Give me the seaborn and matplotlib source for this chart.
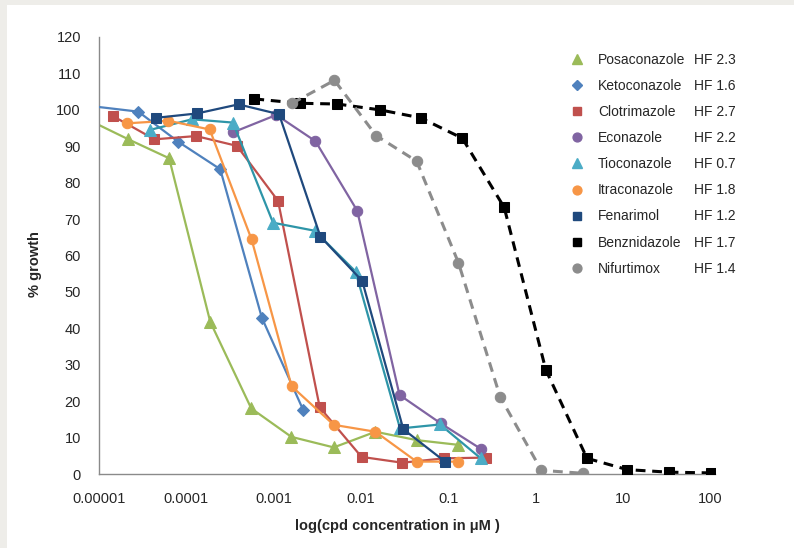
import numpy as np
import pandas as pd
import seaborn as sns
import matplotlib
matplotlib.use("Agg")
import matplotlib.pyplot as plt
from matplotlib.lines import Line2D
from matplotlib.patches import Rectangle
from matplotlib.ticker import NullLocator

# ---- data: concentration (µM) and % growth per compound ----
posa_x = [7.2e-6, 2.17e-5, 6.35e-5, 1.875e-4, 5.53e-4, 1.59e-3, 4.86e-3, 1.46e-2, 4.32e-2, 0.130]
posa_y = [97.5, 91.9, 86.7, 41.8, 18.0, 10.2, 7.3, 11.6, 9.3, 8.0]

keto_x = [8.3e-6, 2.82e-5, 8.11e-5, 2.44e-4, 7.31e-4, 2.17e-3]
keto_y = [101.0, 99.5, 91.2, 83.7, 42.9, 17.6]

clot_x = [1.44e-5, 4.31e-5, 1.29e-4, 3.79e-4, 1.12e-3, 3.36e-3, 1.01e-2, 2.96e-2, 8.87e-2, 0.267]
clot_y = [98.3, 91.9, 92.8, 90.1, 75.0, 18.3, 4.7, 3.1, 4.3, 4.5]

econ_x = [3.40e-4, 1.07e-3, 3.00e-3, 9.02e-3, 2.75e-2, 8.15e-2, 0.238]
econ_y = [93.8, 98.6, 91.4, 72.3, 21.7, 13.9, 6.8]

tioc_x = [3.85e-5, 1.16e-4, 3.41e-4, 9.82e-4, 2.94e-3, 8.63e-3, 2.79e-2, 8.00e-2, 0.234]
tioc_y = [94.5, 97.4, 96.5, 69.0, 66.8, 55.6, 12.5, 13.6, 4.3]

itra_x = [2.11e-5, 6.24e-5, 1.85e-4, 5.58e-4, 1.60e-3, 4.86e-3, 1.46e-2, 4.32e-2, 0.130]
itra_y = [96.3, 97.0, 94.6, 64.4, 24.1, 13.5, 11.6, 3.4, 3.4]

fena_x = [4.47e-5, 1.32e-4, 3.95e-4, 1.15e-3, 3.42e-3, 1.03e-2, 3.04e-2, 9.12e-2]
fena_y = [97.8, 99.0, 101.5, 98.8, 65.2, 53.0, 12.3, 3.4]

benz_x = [6.0e-4, 1.98e-3, 5.32e-3, 1.63e-2, 4.80e-2, 0.144, 0.434, 1.30, 3.85, 11.1, 33.3, 101.6]
benz_y = [103.0, 101.8, 101.6, 100.0, 97.8, 92.2, 73.2, 28.6, 4.3, 1.2, 0.5, 0.3]

nifu_x = [1.62e-3, 4.95e-3, 1.49e-2, 4.32e-2, 0.130, 0.390, 1.156, 3.44]
nifu_y = [101.8, 108.1, 92.9, 85.9, 58.0, 21.2, 1.0, 0.2]

compounds = ["Posaconazole", "Ketoconazole", "Clotrimazole", "Econazole", "Tioconazole",
             "Itraconazole", "Fenarimol", "Benznidazole", "Nifurtimox"]
hf_labels = ["HF 2.3", "HF 1.6", "HF 2.7", "HF 2.2", "HF 0.7", "HF 1.8", "HF 1.2", "HF 1.7", "HF 1.4"]
series_x = [posa_x, keto_x, clot_x, econ_x, tioc_x, itra_x, fena_x, benz_x, nifu_x]
series_y = [posa_y, keto_y, clot_y, econ_y, tioc_y, itra_y, fena_y, benz_y, nifu_y]

x_ticks = [1e-5, 1e-4, 1e-3, 1e-2, 1e-1, 1, 10, 100]
x_tick_labels = ["0.00001", "0.0001", "0.001", "0.01", "0.1", "1", "10", "100"]
y_ticks = list(range(0, 121, 10))

# ---- styles ----
line_colors = ["#9BBB59", "#4F81BD", "#C0504D", "#8064A2", "#2E95A8",
               "#F79646", "#1F497D", "#000000", "#8C8C8C"]
marker_colors = ["#9BBB59", "#4F81BD", "#C0504D", "#8064A2", "#4BACC6",
                 "#F79646", "#1F497D", "#000000", "#8C8C8C"]
markers = ["^", "D", "s", "o", "^", "o", "s", "s", "o"]
msizes = [8, 6.2, 7.2, 7.5, 8, 7.5, 7.2, 7.5, 7.5]
dashed = [False] * 7 + [True, True]

frames = []
for name, xs, ys in zip(compounds, series_x, series_y):
    frames.append(pd.DataFrame({"compound": name, "conc": xs, "growth": ys}))
df = pd.concat(frames, ignore_index=True)

sns.set_theme(style="white")
plt.rcParams["font.family"] = ["Liberation Sans", "DejaVu Sans"]

W, H = 794, 548
fig = plt.figure(figsize=(W / 100, H / 100), dpi=100)
fig.patch.set_facecolor("#EEEDE9")
fig.patches.append(Rectangle((7 / W, 0), 1, (H - 5) / H, transform=fig.transFigure,
                             facecolor="white", edgecolor="none", zorder=-5))

x0, x1, y0, y1 = 99, 715, 37, 474
ax = fig.add_axes([x0 / W, (H - y1) / H, (x1 - x0) / W, (y1 - y0) / H])
ax.set_facecolor("none")

for i, name in enumerate(compounds):
    sub = df[df["compound"] == name]
    kw = dict(color=line_colors[i], marker=markers[i], markersize=msizes[i],
              markerfacecolor=marker_colors[i], markeredgecolor=marker_colors[i],
              linewidth=2.2 if dashed[i] else 1.6, zorder=2 + i)
    if dashed[i]:
        kw["dashes"] = (3.2, 2.2)
    sns.lineplot(data=sub, x="conc", y="growth", ax=ax, sort=True,
                 estimator=None, legend=False, **kw)

ax.set_xscale("log")
ax.set_xlim(1e-5, 10 ** 2.05)
ax.set_ylim(0, 120)
ax.set_xticks(x_ticks)
ax.set_xticklabels(x_tick_labels)
ax.xaxis.set_minor_locator(NullLocator())
ax.set_yticks(y_ticks)
ax.set_yticklabels([str(v) for v in y_ticks])

for side in ("top", "right"):
    ax.spines[side].set_visible(False)
for side in ("left", "bottom"):
    ax.spines[side].set_color("#8A8A8A")
    ax.spines[side].set_linewidth(1.0)

ax.tick_params(axis="y", direction="out", length=4, width=1, color="#8A8A8A",
               labelsize=10.5, labelcolor="#262626", pad=9)
ax.tick_params(axis="x", direction="out", length=5, width=1, color="#8A8A8A",
               labelsize=10.5, labelcolor="#262626", pad=8)

ax.set_xlabel("log(cpd concentration in \u03bcM )", fontsize=10.5, fontweight="bold",
              color="#262626")
ax.set_ylabel("% growth", fontsize=10.5, fontweight="bold", color="#262626")
ax.xaxis.set_label_coords(0.485, -0.103)
ax.yaxis.set_label_coords(-0.092, 0.48)

# legend: markers only, compound names, HF column added alongside
handles = [Line2D([], [], linestyle="None", marker=markers[i], color=marker_colors[i],
                  markersize=msizes[i] * 0.85) for i in range(len(compounds))]
leg = ax.legend(handles, compounds, loc="upper left",
                bbox_to_anchor=(570 / W, (H - 53) / H), bbox_transform=fig.transFigure,
                frameon=False, fontsize=10, labelspacing=0.87, handlelength=1.0,
                handletextpad=1.0, borderpad=0, borderaxespad=0)
for t in leg.get_texts():
    t.set_color("#262626")

fig.canvas.draw()
inv = fig.transFigure.inverted()
for t, hf in zip(leg.get_texts(), hf_labels):
    bb = t.get_window_extent()
    yc = inv.transform((0, (bb.y0 + bb.y1) / 2))[1]
    fig.text(694 / W, yc, hf, va="center", ha="left", fontsize=10, color="#262626")

fig.savefig("out.png", dpi=100, facecolor=fig.get_facecolor())
